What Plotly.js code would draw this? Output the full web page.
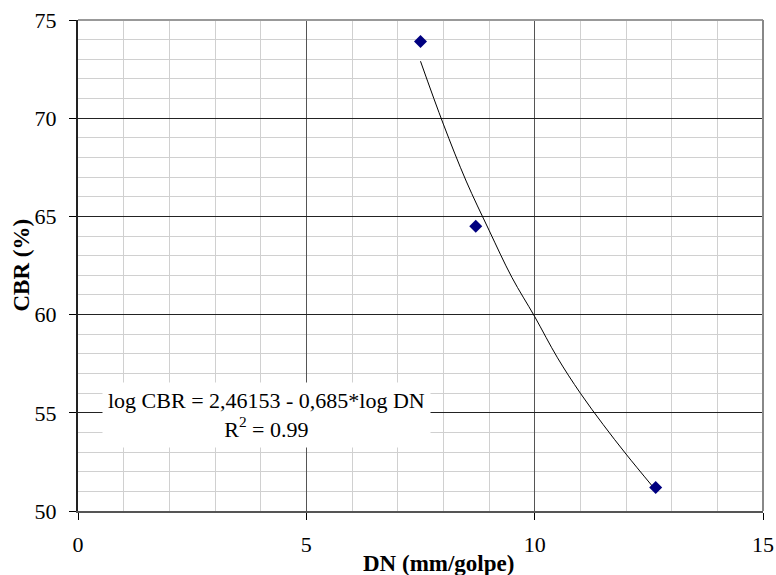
<!DOCTYPE html>
<html>
<head>
<meta charset="utf-8">
<script src="https://cdn.plot.ly/plotly-3.0.1.min.js"></script>
<style>html,body{margin:0;padding:0;background:#fff;}#chart{width:776px;height:575px;}</style>
</head>
<body>
<div id="chart"></div>
<script>
// Measured points
const dnValues = [7.5, 8.71, 12.65];
const cbrValues = [73.9, 64.5, 51.2];

// Trendline
const trendDN = [7.5, 8, 8.5, 9, 9.5, 10, 10.5, 11, 11.5, 12, 12.6];
const trendCBR = [72.9, 69.7, 66.8, 64.3, 61.9, 59.9, 57.8, 56.0, 54.4, 52.9, 51.2];

const xTickVals = [0, 5, 10, 15];
const xTickText = ['0', '5', '10', '15'];
const yTickVals = [50, 55, 60, 65, 70, 75];
const yTickText = ['50', '55', '60', '65', '70', '75'];

const equationText = 'log CBR = 2,46153 - 0,685*log DN<br>R<sup>2</sup> = 0.99';
const xTitle = 'DN (mm/golpe)';
const yTitle = 'CBR (%)';

const serif = 'Liberation Serif';

const traces = [
  {
    x: trendDN, y: trendCBR, type: 'scatter', mode: 'lines',
    line: {color: '#000000', width: 1, shape: 'spline'},
    hoverinfo: 'skip', showlegend: false
  },
  {
    x: dnValues, y: cbrValues, type: 'scatter', mode: 'markers',
    marker: {symbol: 'diamond', size: 10, color: '#000080'},
    showlegend: false
  }
];

const layout = {
  width: 776, height: 575,
  margin: {l: 78, r: 13, t: 20, b: 64},
  paper_bgcolor: '#ffffff', plot_bgcolor: '#ffffff',
  font: {family: serif, color: '#000000', size: 22},
  showlegend: false,
  xaxis: {
    range: [0, 15], tickvals: xTickVals, ticktext: xTickText,
    ticks: 'outside', ticklen: 7, tickcolor: '#000', tickwidth: 1,
    ticklabelstandoff: 6,
    showgrid: true, gridcolor: '#555555', gridwidth: 1,
    minor: {dtick: 1, showgrid: true, gridcolor: '#d0d0d0', gridwidth: 1, ticks: ''},
    showline: true, linecolor: '#555555', linewidth: 2,
    zeroline: false, tickfont: {family: serif, size: 22, color: '#000'}
  },
  yaxis: {
    range: [50, 75], tickvals: yTickVals, ticktext: yTickText,
    ticks: 'outside', ticklen: 7, tickcolor: '#000', tickwidth: 1,
    ticklabelstandoff: 8,
    showgrid: true, gridcolor: '#222222', gridwidth: 1,
    minor: {dtick: 1, showgrid: true, gridcolor: '#d0d0d0', gridwidth: 1, ticks: ''},
    showline: true, linecolor: '#222222', linewidth: 2,
    zeroline: false, tickfont: {family: serif, size: 22, color: '#000'}
  },
  shapes: [
    {type: 'line', xref: 'paper', yref: 'paper', x0: 0, x1: 1, y0: 1, y1: 1, line: {color: '#999999', width: 2}},
    {type: 'line', xref: 'paper', yref: 'paper', x0: 1, x1: 1, y0: 0, y1: 1, line: {color: '#888888', width: 2}}
  ],
  annotations: [
    {
      text: equationText, x: 4.13, y: 54.87, xref: 'x', yref: 'y',
      showarrow: false, bgcolor: '#ffffff', borderpad: 5, align: 'center',
      font: {family: serif, size: 22, color: '#000'}
    },
    {
      text: '<b>' + xTitle + '</b>', xref: 'paper', yref: 'paper',
      x: (438 - 78) / (763 - 78), y: 0, yshift: -52, yanchor: 'middle', xanchor: 'center',
      showarrow: false, font: {family: serif, size: 23, color: '#000'}
    },
    {
      text: '<b>' + yTitle + '</b>', xref: 'paper', yref: 'paper',
      x: 0, xshift: -57, y: 0.5, xanchor: 'center', yanchor: 'middle', textangle: -90,
      showarrow: false, font: {family: serif, size: 23, color: '#000'}
    }
  ]
};

Plotly.newPlot('chart', traces, layout, {displayModeBar: false, staticPlot: true});
</script>
</body>
</html>
